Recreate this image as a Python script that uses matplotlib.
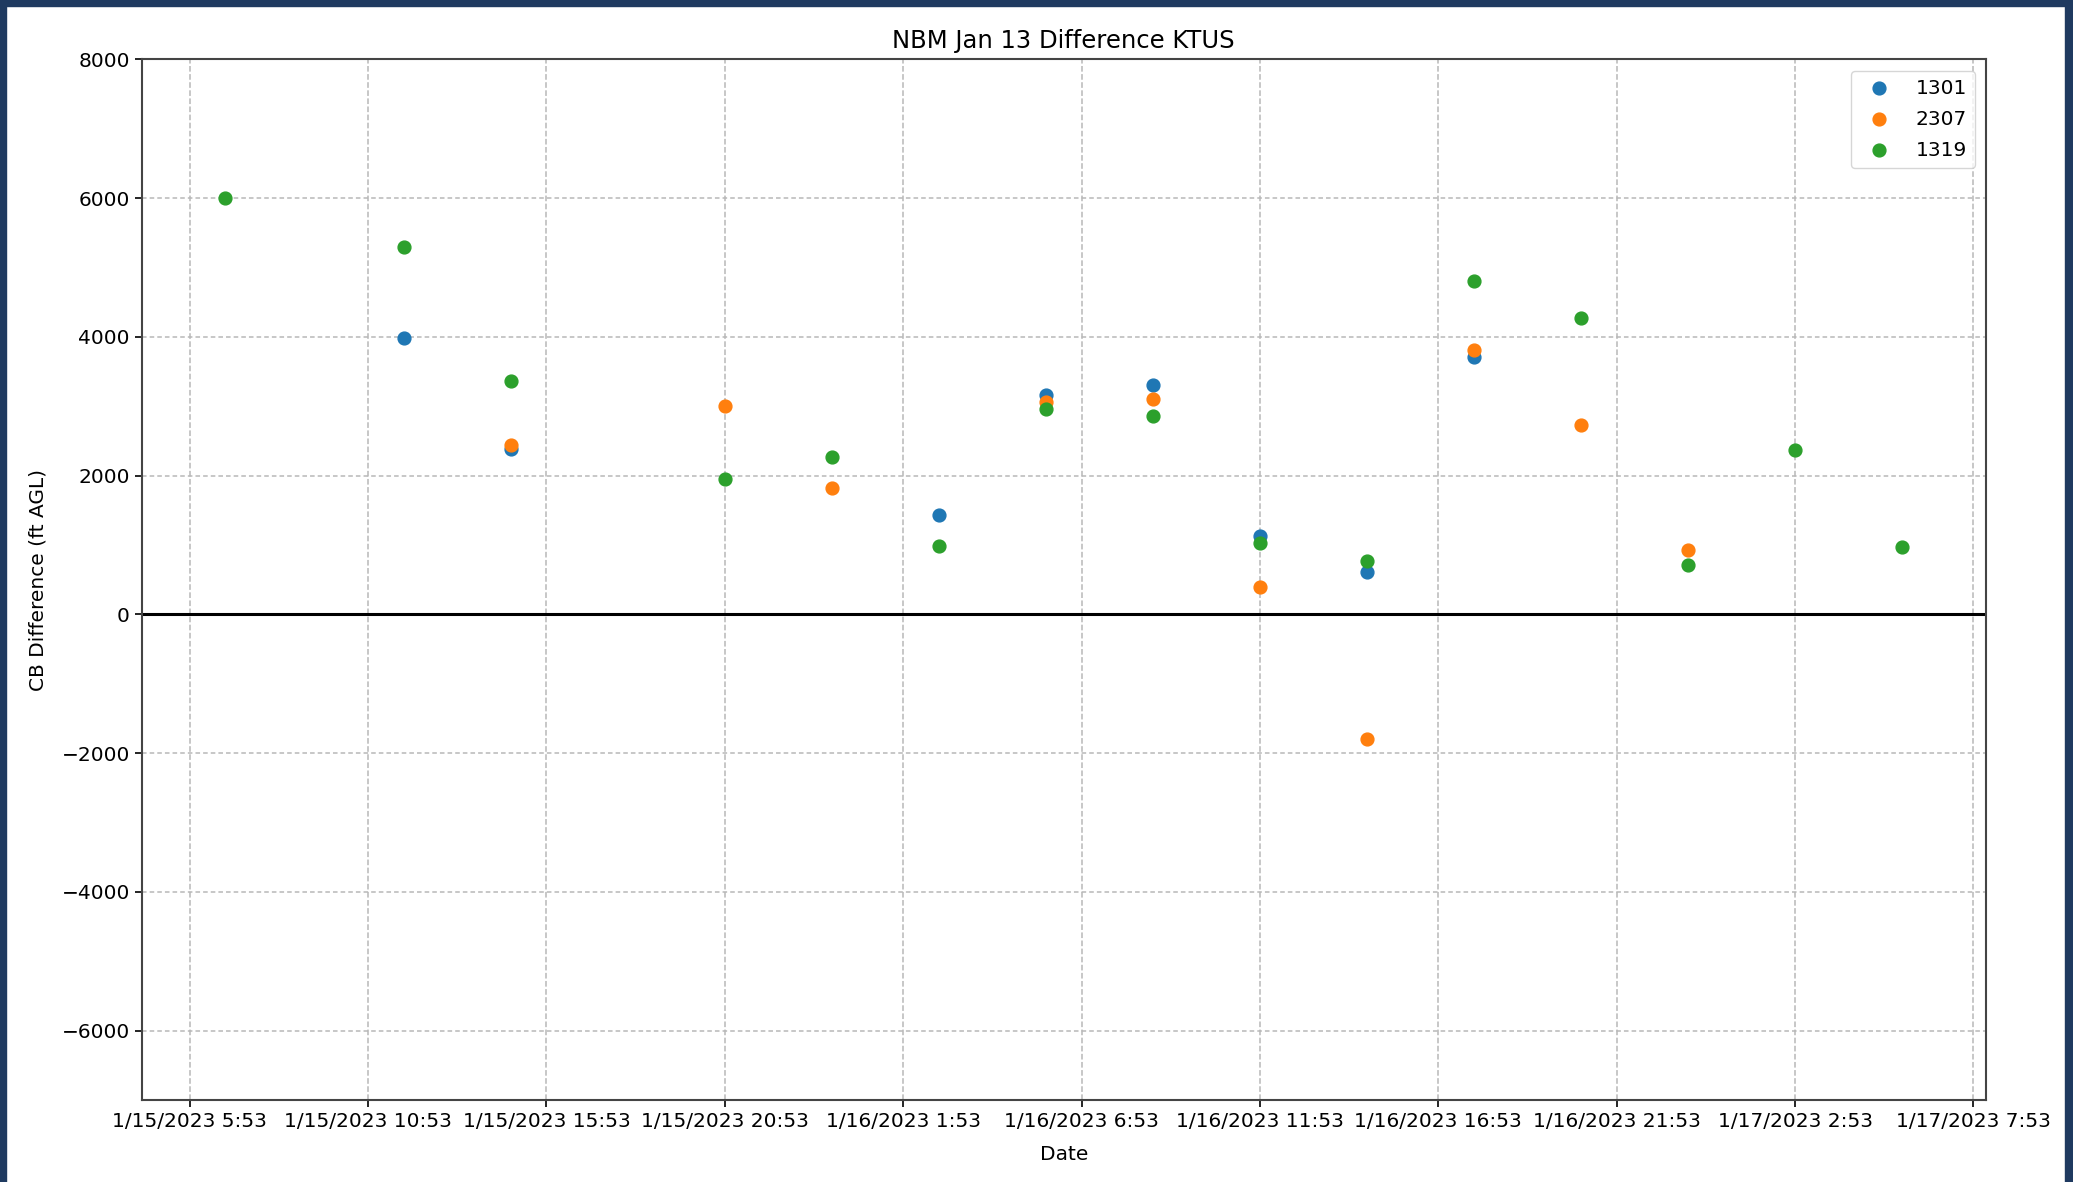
import numpy as np
import pandas as pd
import matplotlib
matplotlib.use('Agg')
import matplotlib.pyplot as plt
from matplotlib.patches import Rectangle

# Data (ft AGL difference per model run)
times = ['2023-01-15 06:53', '2023-01-15 11:53', '2023-01-15 14:53', '2023-01-15 20:53',
         '2023-01-15 23:53', '2023-01-16 02:53', '2023-01-16 05:53', '2023-01-16 08:53',
         '2023-01-16 11:53', '2023-01-16 14:53', '2023-01-16 17:53', '2023-01-16 20:53',
         '2023-01-16 23:53', '2023-01-17 02:53', '2023-01-17 05:53']
nan = np.nan
run_1301 = [nan, 3990, 2380, nan, nan, 1430, 3160, 3300, 1130, 610, 3710, nan, nan, nan, nan]
run_2307 = [nan, nan, 2440, 3000, 1825, nan, 3060, 3110, 390, -1800, 3810, 2735, 935, nan, nan]
run_1319 = [6000, 5290, 3360, 1955, 2270, 985, 2965, 2855, 1030, 765, 4810, 4280, 705, 2370, 970]
labels = ['1301', '2307', '1319']

tick_start = '2023-01-15 05:53'
n_ticks = 11

dates = pd.to_datetime(times)

fig = plt.figure(figsize=(20.73, 11.82), dpi=100)
ax = fig.add_axes([0.0683, 0.0694, 0.8897, 0.8803])

for vals, lab in zip([run_1301, run_2307, run_1319], labels):
    ax.scatter(dates, vals, s=85, label=lab, zorder=3)

ax.axhline(0, color='black', linewidth=2.2, zorder=2)
ax.set_ylim(-7000, 8000)

ticks = pd.date_range(tick_start, periods=n_ticks, freq='5h')
ax.set_xticks(ticks)
ax.set_xticklabels([f'{t.month}/{t.day}/{t.year} {t.hour}:{t.minute:02d}' for t in ticks])

ax.tick_params(labelsize=14.5, length=5, width=1.2)
ax.grid(True, axis='x', linestyle='--', color='#b8b8b8', linewidth=1.1)
ax.grid(True, axis='y', linestyle=(0, (3, 2)), color='#b8b8b8', linewidth=1.1)
for sp in ax.spines.values():
    sp.set_linewidth(1.5)
    sp.set_color('#444444')

ax.set_title('NBM Jan 13 Difference KTUS', fontsize=17.5, pad=8)
ax.set_xlabel('Date', fontsize=14.5, labelpad=10)
ax.set_ylabel('CB Difference (ft AGL)', fontsize=14.5, labelpad=10)
ax.legend(loc='upper right', fontsize=14.5, borderaxespad=0.55, labelspacing=0.6)

# navy screenshot frame
navy = '#1f3a60'
fig.patches.append(Rectangle((0, 0), 6 / 2073, 1, transform=fig.transFigure, color=navy, zorder=10))
fig.patches.append(Rectangle((0, 1 - 6 / 1182), 1, 6 / 1182, transform=fig.transFigure, color=navy, zorder=10))
fig.patches.append(Rectangle((1 - 8 / 2073, 0), 8 / 2073, 1, transform=fig.transFigure, color=navy, zorder=10))

fig.savefig('out.png', dpi=100)
